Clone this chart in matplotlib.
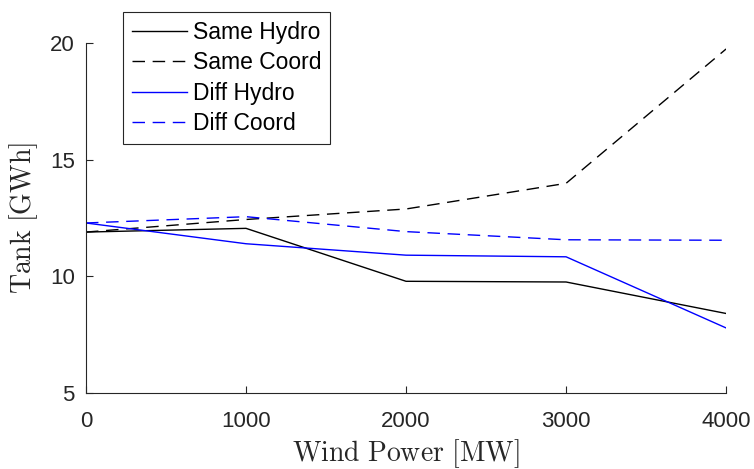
import matplotlib
matplotlib.use("Agg")
import matplotlib.pyplot as plt

# ── data ──────────────────────────────────────────────────────────────────────
wind = [0, 1000, 2000, 3000, 4000]
same_hydro = [11.9, 12.06, 9.79, 9.76, 8.41]
same_coord = [11.9, 12.44, 12.89, 13.99, 19.75]
diff_hydro = [12.29, 11.40, 10.91, 10.84, 7.79]
diff_coord = [12.29, 12.56, 11.92, 11.57, 11.55]

x_ticks = [0, 1000, 2000, 3000, 4000]
y_ticks = [5, 10, 15, 20]

AX_GRAY = "#262626"
DASH = (0, (9, 5.5))

plt.rcParams["font.family"] = ["Liberation Sans", "DejaVu Sans"]
plt.rcParams["mathtext.fontset"] = "cm"

fig = plt.figure(figsize=(7.54, 4.69), dpi=100, facecolor="white")
ax = fig.add_axes([0.114, 0.162, 0.849, 0.746])

ax.plot(wind, same_hydro, color="black", lw=1.0, ls="-", label="Same Hydro")
ax.plot(wind, same_coord, color="black", lw=1.0, ls=DASH, label="Same Coord")
ax.plot(wind, diff_hydro, color="#0000FF", lw=1.0, ls="-", label="Diff Hydro")
ax.plot(wind, diff_coord, color="#0000FF", lw=1.0, ls=DASH, label="Diff Coord")

ax.set_xlim(0, 4000)
ax.set_ylim(5, 20)
ax.set_xticks(x_ticks)
ax.set_yticks(y_ticks)

# MATLAB-ish axes: box off, ticks inward
for side in ("top", "right"):
    ax.spines[side].set_visible(False)
for side in ("left", "bottom"):
    ax.spines[side].set_color(AX_GRAY)
    ax.spines[side].set_linewidth(0.8)
ax.tick_params(direction="in", length=5, width=0.8, color=AX_GRAY,
               labelcolor=AX_GRAY, labelsize=16)
ax.tick_params(axis="x", pad=13)
ax.tick_params(axis="y", pad=8)

ax.set_xlabel(r"$\mathrm{Wind\ Power\ [MW]}$", fontsize=20, color=AX_GRAY, labelpad=4)
ax.set_ylabel(r"$\mathrm{Tank\ [GWh]}$", fontsize=20, color=AX_GRAY, labelpad=7)

leg = fig.legend(loc="upper left", bbox_to_anchor=(0.163, 0.975), borderaxespad=0,
                 fontsize=16.5, fancybox=False, framealpha=1, edgecolor=AX_GRAY,
                 handlelength=2.4, handletextpad=0.25, labelspacing=0.32,
                 borderpad=0.4)
leg.get_frame().set_linewidth(0.8)

fig.savefig("out.png", dpi=100, facecolor="white")
